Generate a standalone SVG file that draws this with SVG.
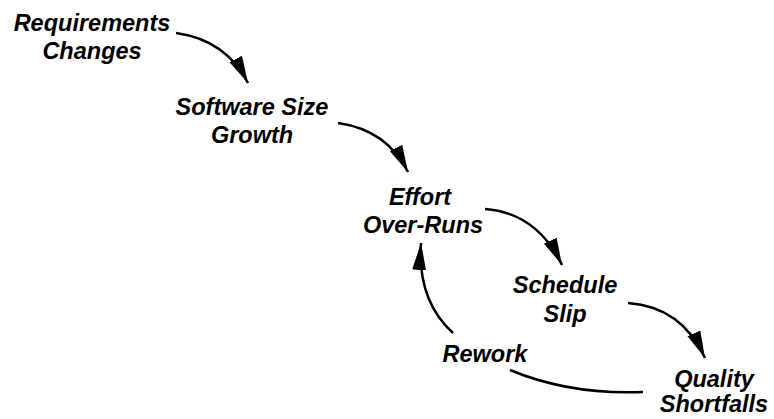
<svg xmlns="http://www.w3.org/2000/svg" width="774" height="419" viewBox="0 0 774 419">
  <style>
    .lbl { font-family: "Liberation Sans", Arial, sans-serif; font-size: 23.5px; font-weight: bold; font-style: italic; fill: #000; text-anchor: middle; }
    .link { fill: none; stroke: #000; stroke-width: 2.5; }
  </style>
  <defs>
    <marker id="head" markerUnits="userSpaceOnUse" markerWidth="30" markerHeight="16" refX="27" refY="7" orient="auto" viewBox="0 0 30 14">
      <path d="M0,0 L27,7 L0,14 Z" fill="#000"/>
    </marker>
  </defs>
  <rect width="774" height="419" fill="#fff"/>

  <g id="connectors">
    <path class="link" marker-end="url(#head)" d="M176,33 Q226,40 248,83"/>
    <path class="link" marker-end="url(#head)" d="M338,123 Q387,130 408,172"/>
    <path class="link" marker-end="url(#head)" d="M485,209 Q537,213 562,265"/>
    <path class="link" marker-end="url(#head)" d="M628,303 Q682,307 705,358"/>
    <path class="link" d="M643,392 Q570,395 510,370"/>
    <path class="link" marker-end="url(#head)" d="M453,333 Q417,300 421,243"/>
  </g>

  <g id="requirements-changes">
    <text class="lbl" x="92" y="31">Requirements</text>
    <text class="lbl" x="92" y="59">Changes</text>
  </g>
  <g id="software-size-growth">
    <text class="lbl" x="252" y="115">Software Size</text>
    <text class="lbl" x="252" y="143">Growth</text>
  </g>
  <g id="effort-over-runs">
    <text class="lbl" x="420" y="205">Effort</text>
    <text class="lbl" x="423" y="233">Over-Runs</text>
  </g>
  <g id="schedule-slip">
    <text class="lbl" x="565" y="293">Schedule</text>
    <text class="lbl" x="565" y="322">Slip</text>
  </g>
  <g id="rework">
    <text class="lbl" x="485" y="362">Rework</text>
  </g>
  <g id="quality-shortfalls">
    <text class="lbl" x="714" y="387">Quality</text>
    <text class="lbl" x="714" y="412">Shortfalls</text>
  </g>
</svg>
